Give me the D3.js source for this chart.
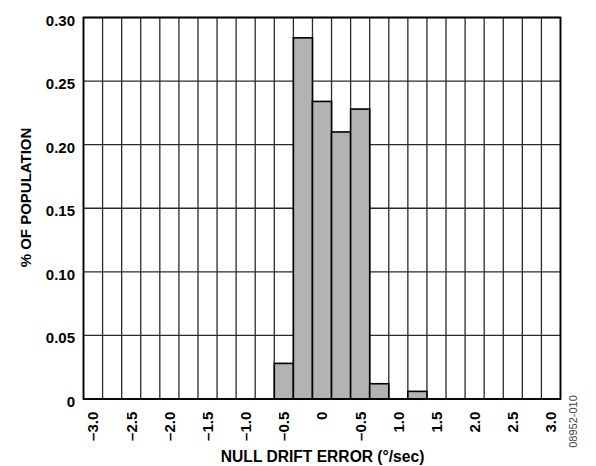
<!DOCTYPE html>
<html>
<head>
<meta charset="utf-8">
<script src="https://cdn.jsdelivr.net/npm/d3@7/dist/d3.min.js"></script>
<style>
  html, body { margin: 0; padding: 0; background: #fff; }
  svg { display: block; }
  text { font-family: "Liberation Sans", Arial, sans-serif; }
</style>
</head>
<body>
<svg id="chart" width="596" height="466"></svg>
<script>
// Histogram bins (°/sec), 0.25 wide, centred on each value
const bins = [-3.0, -2.75, -2.5, -2.25, -2.0, -1.75, -1.5, -1.25, -1.0, -0.75, -0.5, -0.25,
              0, 0.25, 0.5, 0.75, 1.0, 1.25, 1.5, 1.75, 2.0, 2.25, 2.5, 2.75, 3.0];
// Fraction of population in each bin
const population = [0, 0, 0, 0, 0, 0, 0, 0, 0, 0, 0.028, 0.284,
                    0.234, 0.210, 0.228, 0.012, 0, 0.006, 0, 0, 0, 0, 0, 0, 0];
// Axis tick labels
const xTickLabels = ["–3.0", "–2.5", "–2.0", "–1.5", "–1.0", "–0.5", "0", "–0.5", "1.0", "1.5", "2.0", "2.5", "3.0"];
const yTicks = [0, 0.05, 0.10, 0.15, 0.20, 0.25, 0.30];
const yTickLabels = ["0", "0.05", "0.10", "0.15", "0.20", "0.25", "0.30"];

const W = 596, H = 466;
const margin = { left: 83.5, right: W - 560.5, top: 17.5, bottom: H - 399 };
const svg = d3.select("#chart");
const FONT = "Liberation Sans, Arial, sans-serif";

const x = d3.scaleBand().domain(bins).range([margin.left, W - margin.right]).padding(0);
const y = d3.scaleLinear().domain([0, 0.30]).range([H - margin.bottom, margin.top]);

const g = svg.append("g");

// Grid: column boundaries and horizontal tick lines
const bounds = bins.map(b => x(b)).concat([x(bins[bins.length - 1]) + x.bandwidth()]);
g.selectAll("line.vgrid").data(bounds).join("line")
  .attr("x1", d => d).attr("x2", d => d)
  .attr("y1", y(0)).attr("y2", y(0.30))
  .attr("stroke", "#2a2a2a").attr("stroke-width", 1.3);
g.selectAll("line.hgrid").data(yTicks).join("line")
  .attr("x1", x.range()[0]).attr("x2", x.range()[1])
  .attr("y1", d => y(d)).attr("y2", d => y(d))
  .attr("stroke", "#2a2a2a").attr("stroke-width", 1.3);

// Bars
const data = bins.map((b, i) => ({ bin: b, v: population[i] })).filter(d => d.v > 0);
g.selectAll("rect.bar").data(data).join("rect")
  .attr("x", d => x(d.bin))
  .attr("width", x.bandwidth())
  .attr("y", d => y(d.v))
  .attr("height", d => y(0) - y(d.v))
  .attr("fill", "#b3b3b3")
  .attr("stroke", "#000")
  .attr("stroke-width", 1.6);

// Frame
g.append("rect")
  .attr("x", x.range()[0]).attr("y", y(0.30))
  .attr("width", x.range()[1] - x.range()[0])
  .attr("height", y(0) - y(0.30))
  .attr("fill", "none").attr("stroke", "#000").attr("stroke-width", 1.8);

// Y axis labels
const yAxis = d3.axisLeft(y).tickValues(yTicks).tickSize(0).tickPadding(8.5)
  .tickFormat((d, i) => yTickLabels[i]);
const ya = svg.append("g").attr("transform", `translate(${x.range()[0]},0)`).call(yAxis);
ya.select(".domain").remove();
ya.selectAll("text").attr("font-size", 15).attr("font-weight", "bold").attr("fill", "#000")
  .attr("font-family", FONT).attr("dy", "0.5em");

// X axis labels, rotated, every other bin
const labelBins = bins.filter((b, i) => i % 2 === 0);
const xAxis = d3.axisBottom(x).tickValues(labelBins).tickSize(0)
  .tickFormat((d, i) => xTickLabels[i]);
const xa = svg.append("g").attr("transform", `translate(0,${y(0)})`).call(xAxis);
xa.select(".domain").remove();
xa.selectAll("text")
  .attr("font-size", 15).attr("font-weight", "bold").attr("fill", "#000")
  .attr("font-family", FONT)
  .attr("transform", "rotate(-90)")
  .attr("text-anchor", "end")
  .attr("x", -12.7).attr("y", 0).attr("dy", "0.36em");

// Axis titles
svg.append("text")
  .attr("x", 322.6).attr("y", 462)
  .attr("text-anchor", "middle")
  .attr("font-size", 15.6).attr("font-weight", "bold")
  .text("NULL DRIFT ERROR (°/sec)");

svg.append("text")
  .attr("transform", "translate(31,197.5) rotate(-90)")
  .attr("text-anchor", "middle")
  .attr("font-size", 15).attr("font-weight", "bold")
  .text("% OF POPULATION");

svg.append("text")
  .attr("transform", "translate(577,421.5) rotate(-90)")
  .attr("text-anchor", "middle")
  .attr("font-size", 11).attr("fill", "#444")
  .text("08952-010");
</script>
</body>
</html>
